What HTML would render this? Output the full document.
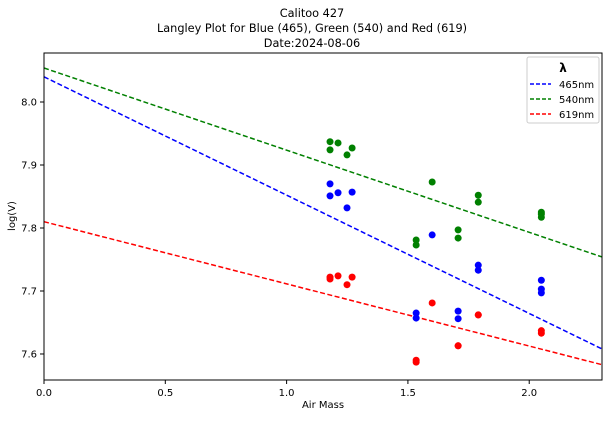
<!DOCTYPE html>
<html><head><meta charset="utf-8"><style>
body{margin:0;background:#fff;font-family:"Liberation Sans","DejaVu Sans",sans-serif}
svg text{font-family:"DejaVu Sans","Liberation Sans",sans-serif}
</style></head><body>
<svg id="c" width="609" height="417" xmlns="http://www.w3.org/2000/svg">
<text x="312" y="17" text-anchor="middle" font-size="11.3">Calitoo 427</text>
<text x="312" y="32" text-anchor="middle" font-size="11.3">Langley Plot for Blue (465), Green (540) and Red (619)</text>
<text x="312" y="47" text-anchor="middle" font-size="11.3">Date:2024-08-06</text>
<g id="plot"></g>
<text x="323" y="408" text-anchor="middle" font-size="10">Air Mass</text>
<text transform="translate(15,216) rotate(-90)" text-anchor="middle" font-size="10">log(V)</text>
<g>
<rect x="527" y="57" width="72" height="66" fill="#fff" stroke="#ccc" rx="2"/>
<text x="563" y="72" text-anchor="middle" font-size="12" font-weight="bold">λ</text>
<line x1="530" y1="84" x2="551" y2="84" stroke="blue" stroke-dasharray="4,2" stroke-width="1.5"/>
<text x="559" y="88" font-size="10">465nm</text>
<line x1="530" y1="99" x2="551" y2="99" stroke="green" stroke-dasharray="4,2" stroke-width="1.5"/>
<text x="559" y="103" font-size="10">540nm</text>
<line x1="530" y1="114" x2="551" y2="114" stroke="red" stroke-dasharray="4,2" stroke-width="1.5"/>
<text x="559" y="118" font-size="10">619nm</text>
</g>
</svg>
<script>
const greenX=[1.179,1.179,1.212,1.249,1.270,1.600,1.534,1.534,1.707,1.707,1.790,1.790,2.05,2.05,2.05];
const greenY=[7.937,7.924,7.935,7.916,7.927,7.873,7.781,7.773,7.797,7.784,7.841,7.852,7.825,7.817,7.822];
const blueX=[1.179,1.179,1.212,1.249,1.270,1.600,1.534,1.534,1.707,1.707,1.790,1.790,2.05,2.05,2.05];
const blueY=[7.870,7.851,7.856,7.832,7.857,7.789,7.665,7.657,7.668,7.656,7.741,7.733,7.717,7.703,7.697];
const redX=[1.179,1.179,1.212,1.249,1.270,1.600,1.534,1.534,1.707,1.707,1.790,1.790,2.05,2.05];
const redY=[7.722,7.719,7.724,7.710,7.722,7.681,7.587,7.590,7.613,7.613,7.662,7.662,7.637,7.633];
const fitX=[0,2.3];
const blueFit=[8.040,7.608];
const greenFit=[8.054,7.754];
const redFit=[7.810,7.583];
const xTicks=[0,0.5,1.0,1.5,2.0];
const xTickLabels=["0.0","0.5","1.0","1.5","2.0"];
const yTicks=[7.6,7.7,7.8,7.9,8.0];
const yTickLabels=["7.6","7.7","7.8","7.9","8.0"];
const L=44,R=602,T=53,B=380,X0=0,X1=2.3,Y0=7.5587,Y1=8.0778;
const sx=v=>L+(v-X0)/(X1-X0)*(R-L);
const sy=v=>B-(v-Y0)/(Y1-Y0)*(B-T);
const g=document.getElementById('plot');
const NS='http://www.w3.org/2000/svg';
function mk(t,a){const e=document.createElementNS(NS,t);for(const k in a)e.setAttribute(k,a[k]);g.appendChild(e);return e;}
xTicks.forEach((v,i)=>{
 const l=mk('line',{x1:sx(v),x2:sx(v),y1:B,y2:B+4,stroke:'#000'});
 
 
 const t=mk('text',{x:sx(v),y:B+16,'text-anchor':'middle','font-size':10});t.textContent=xTickLabels[i];
 
 
});
yTicks.forEach((v,i)=>{
 const l=mk('line',{x1:L-4,x2:L,y1:sy(v),y2:sy(v),stroke:'#000'});
 
 
 const t=mk('text',{x:L-7,y:sy(v)+3.5,'text-anchor':'end','font-size':10});t.textContent=yTickLabels[i];
 
 
});
[[blueFit,'blue','fit-line-465'],[greenFit,'green','fit-line-540'],[redFit,'red','fit-line-619']].forEach(([f,c,n])=>{
 const l=mk('line',{x1:sx(fitX[0]),y1:sy(f[0]),x2:sx(fitX[1]),y2:sy(f[1]),stroke:c,'stroke-width':1.5,'stroke-dasharray':'5,2.5'});
 
 
});
[[greenX,greenY,'green','point-540'],[blueX,blueY,'blue','point-465'],[redX,redY,'red','point-619']].forEach(([xs,ys,c,n])=>{
 xs.forEach((x,i)=>{const p=mk('circle',{cx:sx(x),cy:sy(ys[i]),r:3.5,fill:c});
 
 });
});
const fr=mk('rect',{x:L,y:T,width:R-L,height:B-T,fill:'none',stroke:'#000','stroke-width':1});


</script>
</body></html>
